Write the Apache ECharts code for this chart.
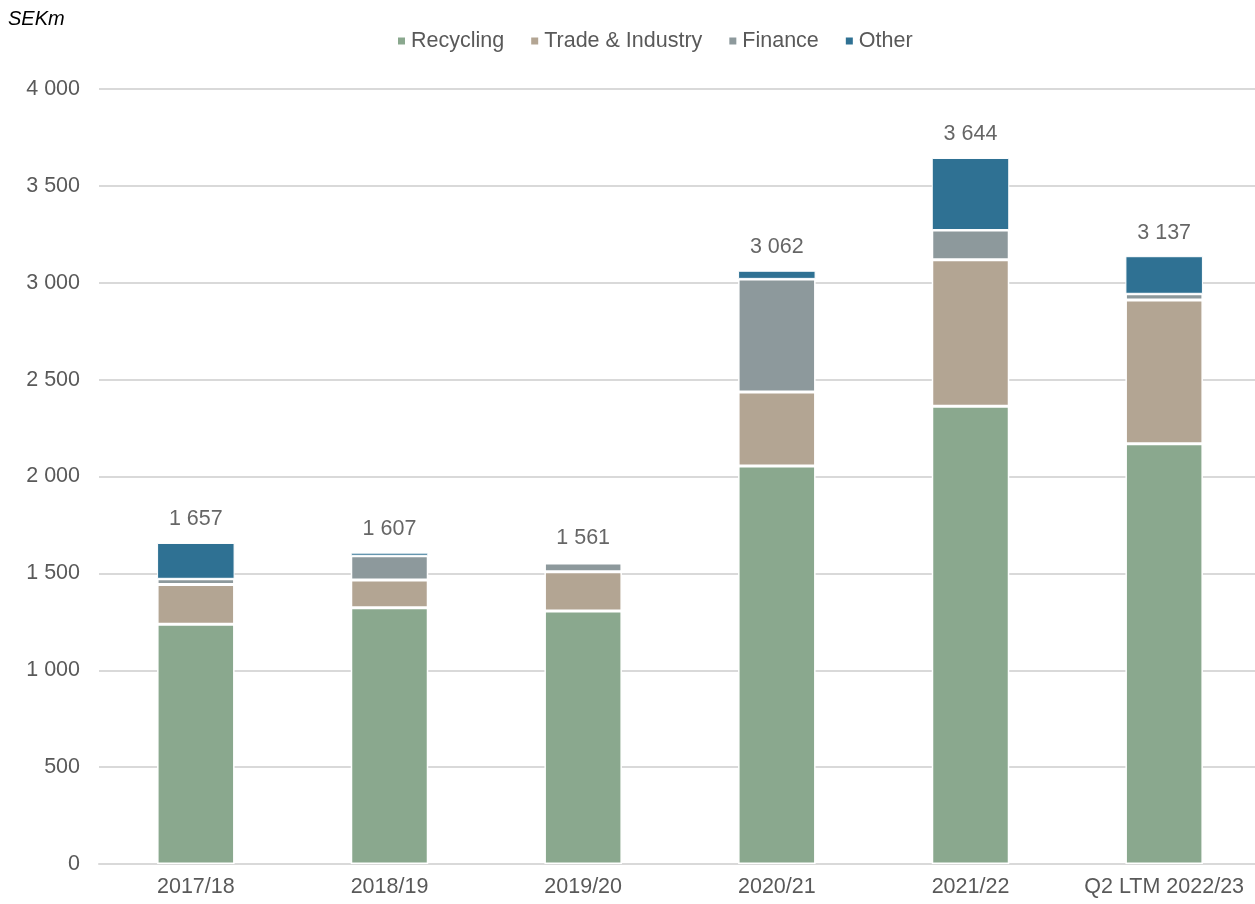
<!DOCTYPE html>
<html>
<head>
<meta charset="utf-8">
<title>Revenue by segment</title>
<script src="https://cdn.jsdelivr.net/npm/echarts@6/dist/echarts.min.js"></script>
<style>
  html, body { margin: 0; padding: 0; background: #fff; overflow: hidden; }
  /* a bit wider than the window: the plot runs past the right edge */
  #main { width: 1261px; height: 904px; }
</style>
</head>
<body>
<div id="main"></div>
<script>
// categories + values (SEKm)
var years = ['2017/18', '2018/19', '2019/20', '2020/21', '2021/22', 'Q2 LTM 2022/23'];
var recycling = [1237, 1322, 1306, 2054, 2363, 2169];
var tradeIndustry = [206, 144, 202, 382, 756, 742];
var finance = [29, 125, 45, 584, 153, 32];
var other = [185, 16, 0, 42, 372, 194];
var totals = [1657, 1607, 1561, 3062, 3644, 3137];

var FONT = '"Liberation Sans", Arial, sans-serif';
var FS = 21.5;

function spaced(v) {
    // 3 644 style thousands
    return String(v).replace(/\B(?=(\d{3})+(?!\d))/g, ' ');
}

function barSeries(name, data, color, border) {
    return {
        name: name,
        type: 'bar',
        stack: 'total',
        data: data,
        barWidth: 77.5,
        itemStyle: {
            color: color,
            borderColor: '#ffffff',
            borderWidth: border
        }
    };
}

var chart = echarts.init(document.getElementById('main'));
chart.setOption({
    animation: false,
    backgroundColor: '#ffffff',
    title: {
        text: 'SEKm',
        left: 8,
        top: 9,
        padding: 0,
        textStyle: {
            fontFamily: FONT,
            fontSize: 20,
            fontStyle: 'italic',
            fontWeight: 'normal',
            color: '#000000'
        }
    },
    legend: {
        data: ['Recycling', 'Trade & Industry', 'Finance', 'Other'],
        left: 396,
        top: 30,
        padding: 0,
        itemWidth: 9,
        itemHeight: 9,
        itemGap: 25,
        icon: 'rect',
        textStyle: {
            fontFamily: FONT,
            fontSize: FS,
            color: '#595959'
        }
    },
    grid: {
        left: 99,
        right: 0,
        top: 89,
        bottom: 40,
        containLabel: false
    },
    xAxis: {
        type: 'category',
        data: years,
        axisLine: { lineStyle: { color: '#d9d9d9', width: 2 } },
        axisTick: { show: false },
        axisLabel: {
            interval: 0,
            margin: 12,
            fontFamily: FONT,
            fontSize: FS,
            color: '#595959'
        }
    },
    yAxis: {
        type: 'value',
        min: 0,
        max: 4000,
        interval: 500,
        axisLine: { show: false },
        axisTick: { show: false },
        splitLine: { lineStyle: { color: '#d9d9d9', width: 2 } },
        axisLabel: {
            margin: 19,
            fontFamily: FONT,
            fontSize: FS,
            color: '#595959',
            formatter: spaced
        }
    },
    series: [
        barSeries('Recycling', recycling, '#8aa88e', 1.5),
        barSeries('Trade & Industry', tradeIndustry, '#b3a593', 1.5),
        barSeries('Finance', finance, '#8d999c', 1.5),
        // thinner edge on the top slice so the small 2018/19 piece still shows
        barSeries('Other', other, '#2f7193', 1),
        {
            // total labels above each stack
            name: 'Total',
            type: 'scatter',
            data: totals,
            symbolSize: 1,
            itemStyle: { color: 'rgba(0,0,0,0)' },
            label: {
                show: true,
                position: 'top',
                distance: 12,
                fontFamily: FONT,
                fontSize: FS,
                color: '#404040',
                formatter: function (p) { return spaced(p.value); }
            },
            z: 5
        }
    ]
});
</script>
</body>
</html>
